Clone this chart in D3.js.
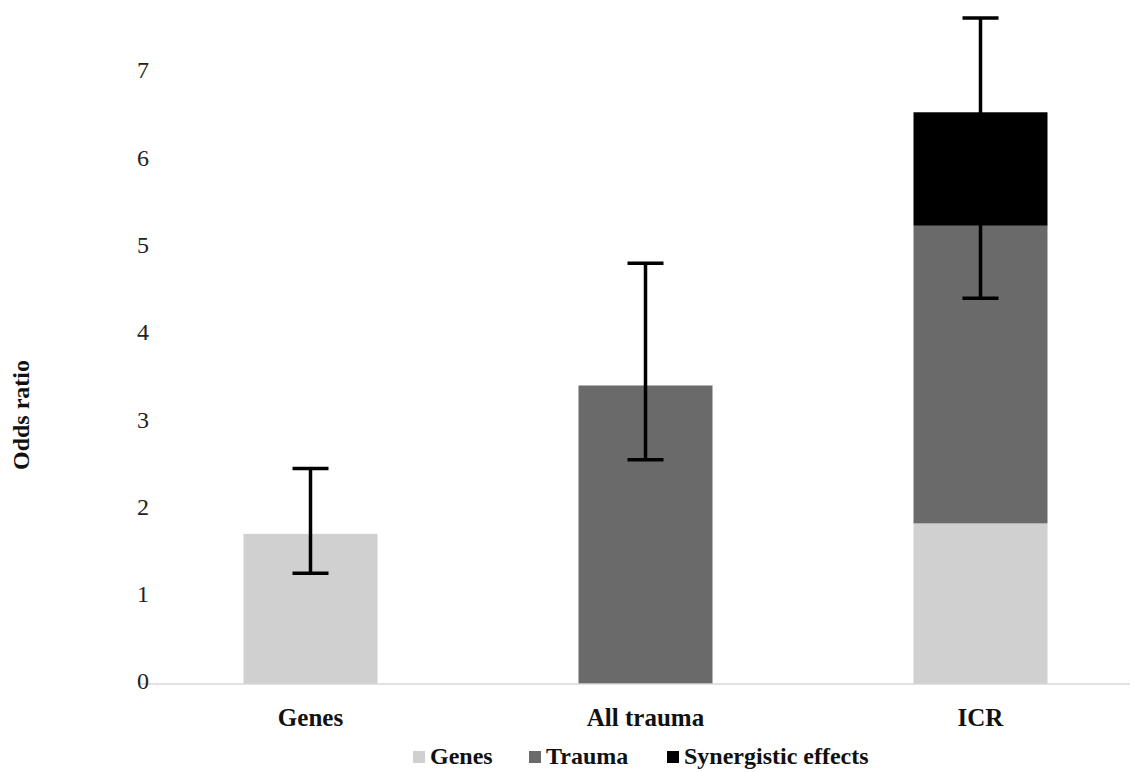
<!DOCTYPE html>
<html>
<head>
<meta charset="utf-8">
<script src="https://cdn.jsdelivr.net/npm/d3@7"></script>
<style>
  body { margin: 0; background: #fff; }
  text { font-family: "Liberation Serif", "Times New Roman", serif; }
</style>
</head>
<body>
<script>
const width = 1134, height = 772;

// data
const categories = ["Genes", "All trauma", "ICR"];
const seriesNames = ["Genes", "Trauma", "Synergistic effects"];
const genesVals = [1.72, 0, 1.84];
const traumaVals = [0, 3.42, 3.41];
const synergyVals = [0, 0, 1.30];
const errLow = [1.27, 2.57, 4.42];
const errHigh = [2.47, 4.82, 7.63];
const yTicks = [0, 1, 2, 3, 4, 5, 6, 7];
const colors = ["#d0d0d0", "#6a6a6a", "#000000"];

const svg = d3.select("body").append("svg")
    .attr("width", width)
    .attr("height", height);

const x = d3.scaleBand()
    .domain(categories)
    .range([143, 1148])
    .paddingInner(0.6)
    .paddingOuter(0.3);

const y = d3.scaleLinear()
    .domain([0, 7])
    .range([684, 73]);

// stack the three series
const rows = categories.map((c, i) => ({
    cat: c,
    "Genes": genesVals[i],
    "Trauma": traumaVals[i],
    "Synergistic effects": synergyVals[i]
}));
const stacked = d3.stack().keys(seriesNames)(rows);

svg.append("g").selectAll("g")
    .data(stacked)
    .enter().append("g")
    .attr("fill", (d, i) => colors[i])
    .selectAll("rect")
    .data(d => d.filter(s => s[1] - s[0] > 0))
    .enter().append("rect")
    .attr("x", d => x(d.data.cat))
    .attr("width", x.bandwidth())
    .attr("y", d => y(d[1]))
    .attr("height", d => y(d[0]) - y(d[1]));

// baseline
svg.append("line")
    .attr("x1", 138).attr("x2", 1130)
    .attr("y1", y(0)).attr("y2", y(0))
    .attr("stroke", "#d9d9d9")
    .attr("stroke-width", 1.5);

// y tick labels (no axis line)
svg.append("g").selectAll("text")
    .data(yTicks)
    .enter().append("text")
    .attr("x", 137)
    .attr("y", d => y(d) - 3)
    .attr("dy", "0.35em")
    .attr("font-size", 24)
    .attr("fill", "#222")
    .text(d => d);

// y title
svg.append("text")
    .attr("transform", "translate(29," + 415 + ") rotate(-90)")
    .attr("text-anchor", "middle")
    .attr("font-size", 24)
    .attr("font-weight", "bold")
    .attr("fill", "#111")
    .text("Odds ratio");

// category labels
svg.append("g").selectAll("text")
    .data(categories)
    .enter().append("text")
    .attr("x", d => x(d) + x.bandwidth() / 2)
    .attr("y", 726)
    .attr("text-anchor", "middle")
    .attr("font-size", 25)
    .attr("font-weight", "bold")
    .attr("fill", "#111")
    .text(d => d);

// error bars
const capW = 36;
const errG = svg.append("g")
    .attr("stroke", "#000")
    .attr("stroke-width", 3.5);
categories.forEach((c, i) => {
    const cx = x(c) + x.bandwidth() / 2;
    errG.append("line")
        .attr("x1", cx).attr("x2", cx)
        .attr("y1", y(errLow[i])).attr("y2", y(errHigh[i]));
    [errLow[i], errHigh[i]].forEach(v => {
        errG.append("line")
            .attr("x1", cx - capW / 2).attr("x2", cx + capW / 2)
            .attr("y1", y(v)).attr("y2", y(v));
    });
});

// legend
const legendX = [413, 529, 667];
const legend = svg.append("g").selectAll("g")
    .data(seriesNames)
    .enter().append("g")
    .attr("transform", (d, i) => "translate(" + legendX[i] + ",756)");
legend.append("rect")
    .attr("x", 0).attr("y", -5)
    .attr("width", 12).attr("height", 12)
    .attr("fill", (d, i) => colors[i]);
legend.append("text")
    .attr("x", 17)
    .attr("y", 0)
    .attr("dy", "0.35em")
    .attr("font-size", 24)
    .attr("font-weight", "bold")
    .attr("fill", "#111")
    .text(d => d);
</script>
</body>
</html>
